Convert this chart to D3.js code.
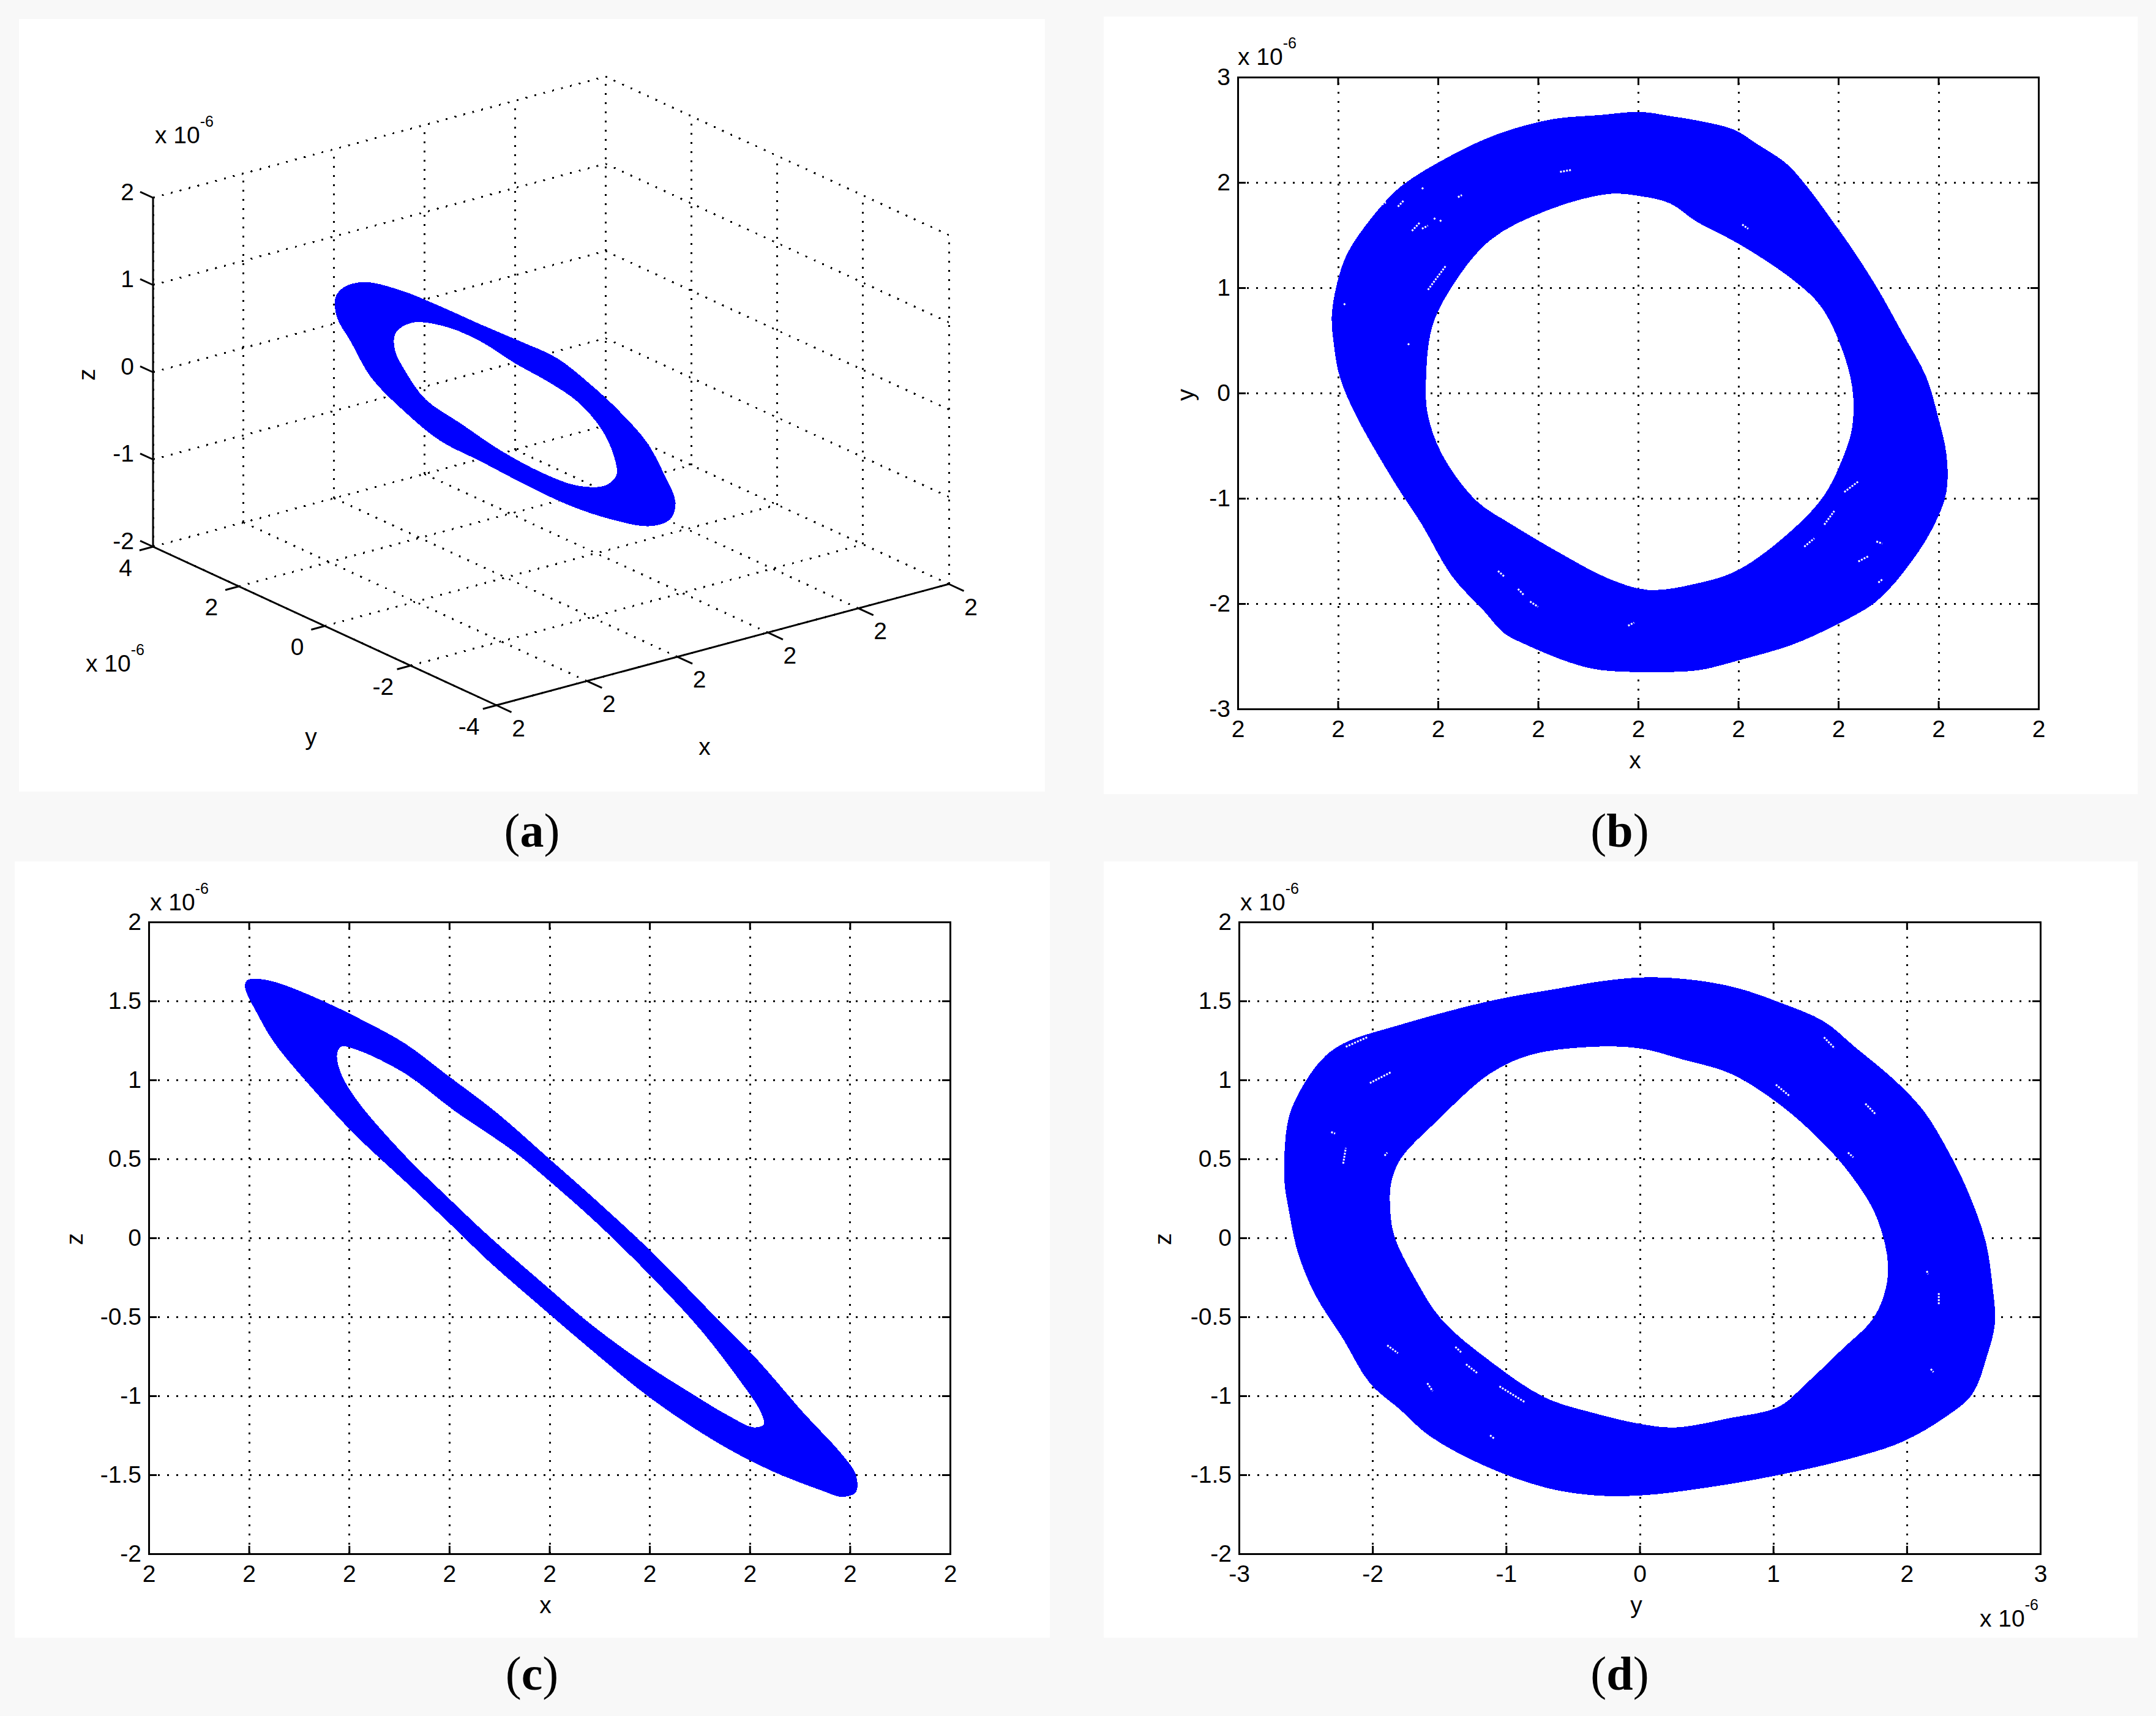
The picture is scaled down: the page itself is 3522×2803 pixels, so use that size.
<!DOCTYPE html>
<html>
<head>
<meta charset="utf-8">
<script src="https://cdn.jsdelivr.net/npm/d3@7"></script>
<style>
  html, body { margin: 0; background: #f8f8f8; }
  text { font-family: "Liberation Sans", sans-serif; font-size: 39px; fill: #000; }
  text.cap { font-family: "Liberation Serif", serif; font-size: 78px; }
</style>
</head>
<body>
<div id="chart"></div>
<script>
// all attractor values are in units of 1e-6, x is the offset from the x0 shown as "2"
const xTicks = [-2, -1.5, -1, -0.5, 0, 0.5, 1, 1.5, 2];
const yTicksB = [-3, -2, -1, 0, 1, 2, 3];
const zTicks = [-2, -1.5, -1, -0.5, 0, 0.5, 1, 1.5, 2];
const yTicksD = [-3, -2, -1, 0, 1, 2, 3];

const xTicks3d = [-2, -1, 0, 1, 2, 3];
const yTicks3d = [-4, -2, 0, 2, 4];
const zTicks3d = [-2, -1, 0, 1, 2];

// panel (a): x, y, z
const outerXYZ = [[-1.47,0.2,1.75],[-1.37,-0.4,1.77],[-1.2,-1,1.67],[-0.98,-1.5,1.51],[-0.72,-1.9,1.33],[-0.48,-2.2,1.15],[-0.24,-2.5,0.84],[-0.01,-2.65,0.52],[0.42,-2.4,-0.02],[0.89,-1.8,-0.64],[1.45,-0.9,-1.34],[1.58,-0.5,-1.66],[1.64,0.1,-1.89],[1.5,0.7,-1.91],[1.38,1.4,-1.88],[1.21,2,-1.75],[0.87,2.4,-1.46],[0.53,2.65,-1.18],[0.08,2.5,-0.7],[-0.54,2,-0.01],[-1,1.5,0.64],[-1.39,1,1.14],[-1.55,0.7,1.48],[-1.6,0.4,1.68]];
const innerXYZ = [[-1.13,-0.2,1.28],[-0.94,-0.6,1.27],[-0.75,-1,1.14],[-0.51,-1.3,0.89],[-0.27,-1.6,0.67],[-0.06,-1.8,0.44],[0.25,-1.7,0.02],[0.63,-1.2,-0.52],[0.89,-0.7,-0.92],[1,-0.2,-1.18],[0.98,0.4,-1.31],[0.89,1,-1.28],[0.67,1.5,-1.08],[0.38,1.85,-0.76],[-0.03,1.8,-0.36],[-0.44,1.4,0.16],[-0.75,1,0.59],[-0.98,0.5,0.96]];

// panel (b): x, y
const outerXY = [[0.01,2.67],[0.16,2.63],[0.29,2.59],[0.48,2.5],[0.59,2.37],[0.74,2.18],[0.84,1.97],[0.98,1.61],[1.08,1.34],[1.2,0.98],[1.32,0.57],[1.44,0.15],[1.5,-0.24],[1.54,-0.58],[1.54,-0.94],[1.48,-1.25],[1.37,-1.59],[1.19,-1.98],[0.98,-2.21],[0.77,-2.39],[0.5,-2.54],[0.31,-2.63],[0.12,-2.65],[-0.19,-2.63],[-0.34,-2.56],[-0.56,-2.39],[-0.67,-2.28],[-0.77,-2.07],[-0.93,-1.74],[-1.08,-1.25],[-1.22,-0.84],[-1.41,-0.21],[-1.49,0.15],[-1.52,0.46],[-1.53,0.75],[-1.49,1.14],[-1.44,1.37],[-1.29,1.76],[-1.18,1.97],[-0.94,2.25],[-0.7,2.46],[-0.43,2.6],[-0.19,2.64]];
const innerXY = [[0.01,1.87],[0.16,1.8],[0.29,1.63],[0.5,1.42],[0.77,1.08],[0.91,0.83],[1.01,0.46],[1.07,0.05],[1.07,-0.32],[1.03,-0.58],[0.93,-0.97],[0.77,-1.3],[0.5,-1.68],[0.29,-1.81],[0.05,-1.87],[-0.15,-1.76],[-0.39,-1.52],[-0.63,-1.25],[-0.81,-1.02],[-0.98,-0.58],[-1.05,-0.21],[-1.06,0.1],[-1.03,0.62],[-0.94,0.98],[-0.74,1.45],[-0.46,1.73],[-0.15,1.89]];
const gapsXY = [[-1.05,0.98,-0.96,1.21],[-1.08,1.95,-1.07,1.93],[-1.2,1.77,-1.17,1.83],[-1.28,1.79,-1.26,1.81],[-0.9,1.86,-0.88,1.88],[-1.02,1.65,-1.01,1.67],[-0.99,1.63,-0.98,1.65],[-1.13,1.54,-1.09,1.62],[-1.08,1.56,-1.05,1.59],[1.03,-0.94,1.1,-0.84],[0.93,-1.25,0.98,-1.12],[0.83,-1.46,0.88,-1.38],[-0.7,-1.69,-0.67,-1.74],[-0.6,-1.86,-0.57,-1.92],[-0.54,-1.98,-0.5,-2.03],[-0.05,-2.21,-0.02,-2.18],[1.1,-1.6,1.15,-1.55],[1.19,-1.41,1.22,-1.43],[0.52,1.6,0.55,1.56],[-0.39,2.1,-0.33,2.12],[1.2,-1.8,1.22,-1.77],[-1.47,0.85,-1.46,0.83],[-1.15,0.47,-1.14,0.45]];

// panel (c): x, z
const outerXZ = [[-1.47,1.64],[-1.37,1.62],[-1.13,1.5],[-0.92,1.37],[-0.72,1.23],[-0.51,1.03],[-0.27,0.8],[0,0.5],[0.24,0.23],[0.52,-0.1],[0.79,-0.45],[1.03,-0.76],[1.27,-1.11],[1.46,-1.37],[1.53,-1.5],[1.53,-1.61],[1.46,-1.64],[1.36,-1.6],[1.1,-1.47],[0.83,-1.29],[0.5,-1.01],[0.21,-0.71],[-0.03,-0.45],[-0.31,-0.14],[-0.44,0.02],[-0.68,0.31],[-0.96,0.64],[-1.13,0.87],[-1.37,1.23],[-1.45,1.4],[-1.52,1.59],[-1.51,1.63]];
const innerXZ = [[-1.04,1.21],[-0.96,1.19],[-0.72,1.04],[-0.48,0.81],[-0.17,0.54],[0,0.36],[0.24,0.09],[0.52,-0.26],[0.76,-0.59],[0.96,-0.92],[1.05,-1.09],[1.07,-1.18],[1.02,-1.2],[0.9,-1.13],[0.69,-0.97],[0.48,-0.8],[0.21,-0.55],[-0.03,-0.29],[-0.31,0.02],[-0.51,0.26],[-0.72,0.52],[-0.96,0.87],[-1.04,1.04],[-1.06,1.16]];

// panel (d): y, z
const outerYZ = [[0.07,1.65],[0.43,1.63],[0.74,1.58],[1.05,1.49],[1.38,1.37],[1.61,1.21],[1.92,0.99],[2.13,0.8],[2.31,0.55],[2.46,0.29],[2.59,-0.02],[2.64,-0.29],[2.66,-0.54],[2.6,-0.75],[2.49,-0.99],[2.28,-1.14],[1.97,-1.29],[1.61,-1.39],[0.99,-1.51],[0.43,-1.59],[0.02,-1.63],[-0.34,-1.63],[-0.71,-1.58],[-1.17,-1.44],[-1.58,-1.25],[-1.79,-1.09],[-2.02,-0.92],[-2.22,-0.64],[-2.43,-0.36],[-2.56,-0.09],[-2.63,0.19],[-2.66,0.36],[-2.64,0.71],[-2.58,0.87],[-2.39,1.12],[-2.22,1.23],[-1.79,1.35],[-1.12,1.5],[-0.6,1.58],[-0.24,1.63]];
const innerYZ = [[0,1.2],[0.32,1.13],[0.68,1.04],[1.04,0.85],[1.35,0.62],[1.58,0.4],[1.77,0.14],[1.86,-0.17],[1.83,-0.36],[1.74,-0.52],[1.51,-0.71],[1.25,-0.92],[1.04,-1.07],[0.68,-1.14],[0.27,-1.2],[0.02,-1.18],[-0.34,-1.11],[-0.71,-1.01],[-1.12,-0.78],[-1.48,-0.52],[-1.68,-0.26],[-1.84,0.02],[-1.87,0.23],[-1.86,0.35],[-1.79,0.5],[-1.53,0.73],[-1.12,1.04],[-0.81,1.16],[-0.34,1.21]];
const gapsYZ = [[-2.22,0.47,-2.2,0.57],[-2.02,0.98,-1.86,1.05],[1.69,0.85,1.77,0.78],[1.02,0.97,1.12,0.9],[1.38,1.27,1.46,1.2],[2.24,-0.35,2.24,-0.42],[2.15,-0.21,2.16,-0.23],[-1.05,-0.94,-0.86,-1.04],[-1.38,-0.69,-1.33,-0.73],[-1.3,-0.8,-1.21,-0.86],[-1.59,-0.92,-1.55,-0.97],[-1.89,-0.68,-1.81,-0.73],[-1.91,0.52,-1.89,0.54],[-2.31,0.67,-2.28,0.66],[1.56,0.54,1.6,0.51],[2.18,-0.83,2.2,-0.85],[-1.12,-1.25,-1.09,-1.27],[-2.2,1.21,-2.04,1.27]];

const blue = "#0000ff";
const dots = "3,12";
const svg = d3.select("#chart").append("svg")
  .attr("width", 3522).attr("height", 2803)
  .style("display", "block");

// white figure backgrounds
const sheets = [[31, 31, 1676, 1262], [1803, 27, 1689, 1270], [24, 1407, 1691, 1268], [1803, 1407, 1689, 1268]];
svg.selectAll("rect.sheet").data(sheets).join("rect")
  .attr("class", "sheet")
  .attr("x", (d) => d[0]).attr("y", (d) => d[1])
  .attr("width", d => d[2]).attr("height", d => d[3])
  .attr("fill", "#fff");

function exponent(g, x, y) {
  const t = g.append("text").attr("x", x).attr("y", y);
  t.append("tspan").text("x 10");
  t.append("tspan").attr("dy", -27).style("font-size", "25px").text("-6");
}

function drawRing(g, outer, inner, gaps, x, y) {
  const line = d3.line().x((d) => x(d[0])).y((d) => y(d[1])).curve(d3.curveCatmullRomClosed);
  g.append("path")
    .attr("d", line(outer) + line(inner))
    .attr("fill", blue)
    .attr("fill-rule", "evenodd")
    .attr("shape-rendering", "crispEdges");
  g.selectAll("line.gap").data(gaps).join("line")
    .attr("class", "gap")
    .attr("x1", (d) => x(d[0])).attr("y1", (d) => y(d[1]))
    .attr("x2", (d) => x(d[2])).attr("y2", (d) => y(d[3]))
    .attr("stroke", "#fff").attr("stroke-width", 3).attr("stroke-dasharray", "3,2");
}

// one 2-D panel: box, inward ticks on all four sides, dotted grid
function panel2d(opts) {
  const { left, top, width, height, xDomain, yDomain, xVals, yVals, xFmt, yFmt } = opts;
  const g = svg.append("g").attr("transform", `translate(${left},${top})`);
  const x = d3.scaleLinear().domain(xDomain).range([0, width]);
  const y = d3.scaleLinear().domain(yDomain).range([height, 0]);

  const xInner = xVals.slice(1, -1);
  const yInner = yVals.slice(1, -1);

  const gridX = d3.axisBottom(x).tickValues(xInner).tickSize(-height).tickFormat("");
  const gridY = d3.axisLeft(y).tickValues(yInner).tickSize(-width).tickFormat("");
  const gridG = g.append("g").attr("class", "grid");
  gridG.append("g").attr("transform", `translate(0,${height})`).call(gridX);
  gridG.append("g").call(gridY);
  gridG.selectAll(".domain").remove();
  gridG.selectAll("line")
    .attr("stroke", "#000").attr("stroke-width", 3)
    .attr("stroke-dasharray", dots).attr("shape-rendering", "crispEdges");

  drawRing(g, opts.outer, opts.inner, opts.gaps, x, y);

  const tick = 13;
  const bottom = g.append("g").attr("transform", `translate(0,${height})`)
    .call(d3.axisBottom(x).tickValues(xVals).tickFormat(xFmt).tickSize(-tick).tickPadding(18));
  const leftAxis = g.append("g")
    .call(d3.axisLeft(y).tickValues(yVals).tickFormat(yFmt).tickSize(-tick).tickPadding(12));
  const topAxis = g.append("g")
    .call(d3.axisTop(x).tickValues(xVals).tickFormat("").tickSize(-tick));
  const rightAxis = g.append("g").attr("transform", `translate(${width},0)`)
    .call(d3.axisRight(y).tickValues(yVals).tickFormat("").tickSize(-tick));

  [bottom, leftAxis, topAxis, rightAxis].forEach((a) => {
    a.attr("font-family", null).attr("font-size", null);
    a.selectAll("line, path").attr("stroke", "#000").attr("stroke-width", 3);
    a.selectAll("text").attr("fill", null);
  });
  return g;
}

// (b) x-y
panel2d({
  left: 2022, top: 126, width: 1308, height: 1032,
  xDomain: [-2, 2], yDomain: [-3, 3], xVals: xTicks, yVals: yTicksB,
  xFmt: () => "2", yFmt: (d) => String(d),
  outer: outerXY, inner: innerXY, gaps: gapsXY
});
exponent(svg, 2022, 106);
svg.append("text").attr("x", 2671).attr("y", 1255).attr("text-anchor", "middle").text("x");
svg.append("text").attr("transform", "translate(1950,645) rotate(-90)").attr("text-anchor", "middle").text("y");

// (c) x-z
panel2d({
  left: 243, top: 1506, width: 1309, height: 1032,
  xDomain: [-2, 2], yDomain: [-2, 2], xVals: xTicks, yVals: zTicks,
  xFmt: () => "2", yFmt: (d) => String(d),
  outer: outerXZ, inner: innerXZ, gaps: []
});
exponent(svg, 245, 1487);
svg.append("text").attr("x", 891).attr("y", 2635).attr("text-anchor", "middle").text("x");
svg.append("text").attr("transform", "translate(135,2024) rotate(-90)").attr("text-anchor", "middle").text("z");

// (d) y-z
panel2d({
  left: 2024, top: 1506, width: 1309, height: 1032,
  xDomain: [-3, 3], yDomain: [-2, 2], xVals: yTicksD, yVals: zTicks,
  xFmt: (d) => String(d), yFmt: (d) => String(d),
  outer: outerYZ, inner: innerYZ, gaps: gapsYZ
});
exponent(svg, 2026, 1487);
exponent(svg, 3234, 2657);
svg.append("text").attr("x", 2673).attr("y", 2635).attr("text-anchor", "middle").text("y");
svg.append("text").attr("transform", "translate(1913,2024) rotate(-90)").attr("text-anchor", "middle").text("z");

// (a) 3-D box, fixed oblique view
const xs = d3.scaleLinear().domain([-2, 3]).range([0, 1]);
const ys = d3.scaleLinear().domain([-4, 4]).range([0, 1]);
const zs = d3.scaleLinear().domain([-2, 2]).range([0, 1]);
const project = ([x, y, z]) => [
  811 + xs(x) * 739 - ys(y) * 561,
  1152 - xs(x) * 198 - ys(y) * 259 - zs(z) * 570
];

const ga = svg.append("g");
const segs = [];
xTicks3d.forEach((x) => {
  segs.push([[x, -4, -2], [x, 4, -2]]);
  segs.push([[x, 4, -2], [x, 4, 2]]);
});
yTicks3d.forEach((y) => {
  segs.push([[-2, y, -2], [3, y, -2]]);
  segs.push([[3, y, -2], [3, y, 2]]);
});
zTicks3d.forEach((z) => {
  segs.push([[-2, 4, z], [3, 4, z]]);
  segs.push([[3, 4, z], [3, -4, z]]);
});
const seg = d3.line();
ga.selectAll("path.grid").data(segs).join("path")
  .attr("class", "grid")
  .attr("d", (d) => seg(d.map(project)))
  .attr("fill", "none").attr("stroke", "#000").attr("stroke-width", 3)
  .attr("stroke-dasharray", dots).attr("shape-rendering", "crispEdges");

const ringLine = d3.line().curve(d3.curveCatmullRomClosed);
ga.append("path")
  .attr("d", ringLine(outerXYZ.map(project)) + ringLine(innerXYZ.map(project)))
  .attr("fill", blue).attr("fill-rule", "evenodd").attr("shape-rendering", "crispEdges");

const solid = [[[-2, 4, -2], [-2, 4, 2]], [[-2, 4, -2], [-2, -4, -2]], [[-2, -4, -2], [3, -4, -2]]];
xTicks3d.forEach((x) => solid.push([[x, -4, -2], [x, -4.35, -2]]));
yTicks3d.forEach((y) => solid.push([[-2, y, -2], [-2.15, y, -2]]));
zTicks3d.forEach((z) => solid.push([[-2, 4, z], [-2, 4.3, z]]));
ga.selectAll("path.solid").data(solid).join("path")
  .attr("class", "solid")
  .attr("d", (d) => seg(d.map(project)))
  .attr("fill", "none").attr("stroke", "#000").attr("stroke-width", 3);

ga.selectAll("text.xt").data(xTicks3d).join("text")
  .attr("class", "xt").attr("text-anchor", "middle").attr("dy", "0.35em")
  .attr("x", (d) => project([d, -4, -2])[0] + 36)
  .attr("y", (d) => project([d, -4, -2])[1] + 37)
  .text("2");
ga.selectAll("text.yt").data(yTicks3d).join("text")
  .attr("class", "yt").attr("text-anchor", "middle").attr("dy", "0.35em")
  .attr("x", (d) => project([-2, d, -2])[0] - 45)
  .attr("y", (d) => project([-2, d, -2])[1] + 34)
  .text((d) => String(d));
ga.selectAll("text.zt").data(zTicks3d).join("text")
  .attr("class", "zt").attr("text-anchor", "end").attr("dy", "0.35em")
  .attr("x", 219)
  .attr("y", (d) => project([-2, 4, d])[1] - 10)
  .text((d) => String(d));
exponent(svg, 253, 234);
exponent(svg, 140, 1097);
svg.append("text").attr("x", 508).attr("y", 1217).attr("text-anchor", "middle").text("y");
svg.append("text").attr("x", 1151).attr("y", 1233).attr("text-anchor", "middle").text("x");
svg.append("text").attr("transform", "translate(155,612) rotate(-90)").attr("text-anchor", "middle").text("z");

// captions
const captions = [["a", 869, 1383], ["b", 2646, 1383], ["c", 869, 2760], ["d", 2646, 2760]];
captions.forEach(([letter, cx, cy]) => {
  const t = svg.append("text").attr("class", "cap").attr("x", cx).attr("y", cy).attr("text-anchor", "middle");
  t.append("tspan").text("(");
  t.append("tspan").attr("font-weight", "bold").text(letter);
  t.append("tspan").text(")");
});
</script>
</body>
</html>
